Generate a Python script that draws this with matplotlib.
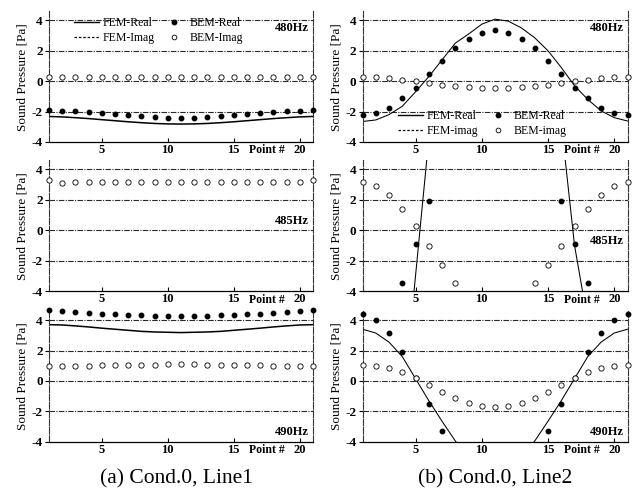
import numpy as np
import matplotlib
matplotlib.use("Agg")
import matplotlib.pyplot as plt
from matplotlib.lines import Line2D

nan = np.nan
points = list(range(1, 22))
x_ticks = [5, 10, 15, 20]
y_ticks = [-4, -2, 0, 2, 4]
freqs = ["480Hz", "485Hz", "490Hz"]
captions = ["(a) Cond.0, Line1", "(b) Cond.0, Line2"]

# Line1 (left column)
L480_fem_real = [-2.32, -2.35, -2.40, -2.46, -2.53, -2.60, -2.67, -2.73, -2.78, -2.81, -2.82,
                 -2.81, -2.78, -2.73, -2.67, -2.60, -2.53, -2.46, -2.40, -2.35, -2.32]
L480_bem_real = [-1.92, -1.93, -1.97, -2.03, -2.10, -2.17, -2.25, -2.32, -2.38, -2.42, -2.43,
                 -2.42, -2.38, -2.32, -2.25, -2.17, -2.10, -2.03, -1.97, -1.93, -1.92]
L480_bem_imag = [0.28, 0.27, 0.27, 0.27, 0.27, 0.27, 0.27, 0.27, 0.27, 0.27, 0.27,
                 0.27, 0.27, 0.27, 0.27, 0.27, 0.27, 0.27, 0.27, 0.27, 0.28]

L485_bem_imag = [3.30, 3.12, 3.16, 3.16, 3.16, 3.16, 3.16, 3.16, 3.16, 3.16, 3.16,
                 3.16, 3.16, 3.16, 3.16, 3.16, 3.16, 3.16, 3.16, 3.16, 3.30]

L490_fem_real = [3.70, 3.68, 3.62, 3.55, 3.47, 3.40, 3.33, 3.26, 3.22, 3.20, 3.18,
                 3.20, 3.22, 3.26, 3.33, 3.40, 3.47, 3.55, 3.62, 3.68, 3.70]
L490_bem_real = [4.65, 4.60, 4.51, 4.47, 4.42, 4.38, 4.35, 4.31, 4.29, 4.24, 4.24,
                 4.24, 4.29, 4.31, 4.35, 4.38, 4.42, 4.47, 4.51, 4.58, 4.65]
L490_bem_imag = [1.00, 1.00, 1.00, 1.00, 1.02, 1.03, 1.03, 1.04, 1.05, 1.08, 1.09,
                 1.08, 1.05, 1.04, 1.03, 1.03, 1.02, 1.00, 1.00, 1.00, 1.00]

# Line2 (right column)
R480_fem_real = [-2.65, -2.55, -2.20, -1.65, -0.70, 0.30, 1.40, 2.50, 3.10, 3.75, 4.08,
                 3.95, 3.50, 2.85, 2.00, 0.90, -0.30, -1.20, -1.95, -2.40, -2.62]
R480_bem_real = [-2.23, -2.12, -1.75, -1.11, -0.42, 0.46, 1.36, 2.19, 2.78, 3.19, 3.39,
                 3.19, 2.78, 2.19, 1.36, 0.46, -0.42, -1.11, -1.75, -2.12, -2.23]
R480_bem_imag = [0.25, 0.25, 0.22, 0.10, 0.00, -0.09, -0.22, -0.33, -0.35, -0.42, -0.48,
                 -0.42, -0.35, -0.30, -0.22, -0.10, 0.00, 0.10, 0.22, 0.25, 0.27]

R485_fem_real = [-22, -20, -17, -12, -3, 6, 13, 18, 21, 23, 23.5,
                 23, 21, 18, 13, 7, -1, -6, -15, -19, -21]
R485_bem_real = [nan, nan, nan, -3.44, -0.91, 1.95, nan, nan, nan, nan, nan,
                 nan, nan, nan, nan, 1.95, -0.91, -3.44, nan, nan, nan]
R485_bem_imag = [3.16, 2.94, 2.34, 1.40, 0.26, -1.07, -2.30, -3.44, nan, nan, nan,
                 nan, nan, -3.44, -2.30, -1.07, 0.26, 1.40, 2.34, 2.94, 3.16]

R490_fem_real = [3.40, 3.15, 2.55, 1.60, 0.15, -1.30, -2.65, -3.95, -5.00, -5.60, -5.80,
                 -5.60, -5.00, -3.95, -2.65, -1.30, 0.15, 1.60, 2.55, 3.15, 3.40]
R490_bem_real = [4.38, 4.00, 3.18, 1.89, 0.20, -1.51, -3.31, nan, nan, nan, nan,
                 nan, nan, nan, -3.31, -1.51, 0.20, 1.89, 3.18, 4.00, 4.38]
R490_bem_imag = [1.04, 1.00, 0.82, 0.56, 0.20, -0.29, -0.73, -1.11, -1.47, -1.67, -1.71,
                 -1.67, -1.47, -1.11, -0.73, -0.29, 0.20, 0.56, 0.82, 1.00, 1.04]

panels = [
    [(L480_fem_real, L480_bem_real, L480_bem_imag), (R480_fem_real, R480_bem_real, R480_bem_imag)],
    [(None, None, L485_bem_imag), (R485_fem_real, R485_bem_real, R485_bem_imag)],
    [(L490_fem_real, L490_bem_real, L490_bem_imag), (R490_fem_real, R490_bem_real, R490_bem_imag)],
]

SERIF = "Liberation Serif"
plt.rcParams["font.family"] = [SERIF, "DejaVu Serif"]

fig = plt.figure(figsize=(6.36, 4.92), dpi=100)
col_x = [0.077, 0.570]
col_w = [0.415, 0.4167]
row_y = [0.7114, 0.4085, 0.1022]
row_h = 0.2657

# freq label positions (axes fraction, ha right)
freq_pos = [
    [(0.985, 0.875), (0.985, 0.875)],
    [(0.985, 0.535), (0.985, 0.385)],
    [(0.985, 0.075), (0.985, 0.075)],
]

for r in range(3):
    for c in range(2):
        ax = fig.add_axes([col_x[c], row_y[r], col_w[c], row_h])
        fem, bem_r, bem_i = panels[r][c]
        for yv in [4, 2, 0, -2]:
            ax.axhline(yv, color="#2a2a2a", lw=0.8, ls=(0, (5, 1.2, 1, 1.2)), zorder=1)
        lw = 1.1 if c == 0 else 0.75
        if fem is not None:
            ax.plot(points, fem, color="black", lw=lw, zorder=2)
        if bem_r is not None:
            ax.plot(points, bem_r, ls="none", marker="o", ms=3.2, mfc="black", mec="black",
                    zorder=3, clip_on=False)
        if bem_i is not None:
            ax.plot(points, bem_i, ls="none", marker="o", ms=3.8, mfc="white", mec="black",
                    mew=0.6, zorder=3, clip_on=False)
        ax.set_xlim(1, 21)
        ax.set_ylim(-4, 4.6)
        ax.set_xticks(x_ticks)
        ax.set_yticks(y_ticks)
        ax.set_yticklabels([str(v) for v in y_ticks], fontweight="bold", fontsize=9.5)
        ax.set_xticklabels([str(v) for v in x_ticks], fontweight="bold", fontsize=9)
        ax.tick_params(axis="y", direction="out", length=3, width=0.8, pad=1.5)
        ax.tick_params(axis="x", direction="in", length=3, width=0.8, pad=1.5)
        ax.spines["top"].set_visible(False)
        for s in ["left", "right"]:
            ax.spines[s].set_linestyle((0, (6, 1.5)))
            ax.spines[s].set_color("#333333")
            ax.spines[s].set_linewidth(0.8)
        ax.spines["bottom"].set_linewidth(0.9)
        ax.set_ylabel("Sound Pressure [Pa]", fontsize=9.5, labelpad=2)
        ax.annotate("Point #", xy=(18.9, 0), xycoords=ax.get_xaxis_transform(),
                    xytext=(0, -1.8), textcoords="offset points",
                    ha="right", va="top", fontsize=8.5, fontweight="bold")
        fx, fy = freq_pos[r][c]
        ax.text(fx, fy, freqs[r], transform=ax.transAxes, ha="right", va="center",
                fontsize=9, fontweight="bold")
        if r == 0:
            handles = [
                Line2D([], [], color="black", lw=1.0),
                Line2D([], [], color="black", lw=0.9, ls=(0, (2, 1.5))),
                Line2D([], [], ls="none", marker="o", ms=3.2, mfc="black", mec="black"),
                Line2D([], [], ls="none", marker="o", ms=3.4, mfc="white", mec="black", mew=0.6),
            ]
            labels = ["FEM-Real", "FEM-Imag", "BEM-Real", "BEM-Imag"]
            if c == 1:
                labels = ["FEM-Real", "FEM-imag", "BEM-Real", "BEM-imag"]
                anchor = (0.135, 0.245)
            else:
                anchor = (0.095, 0.955)
            ax.legend(handles, labels, ncol=2, frameon=False, loc="upper left",
                      bbox_to_anchor=anchor, fontsize=8.5, handlelength=2.1,
                      handletextpad=0.3, columnspacing=0.6, labelspacing=0.25,
                      borderpad=0, borderaxespad=0)

fig.text(0.277, 0.026, captions[0], ha="center", va="center", fontsize=15.5)
fig.text(0.778, 0.026, captions[1], ha="center", va="center", fontsize=15.5)

fig.savefig("out.png", dpi=100)
